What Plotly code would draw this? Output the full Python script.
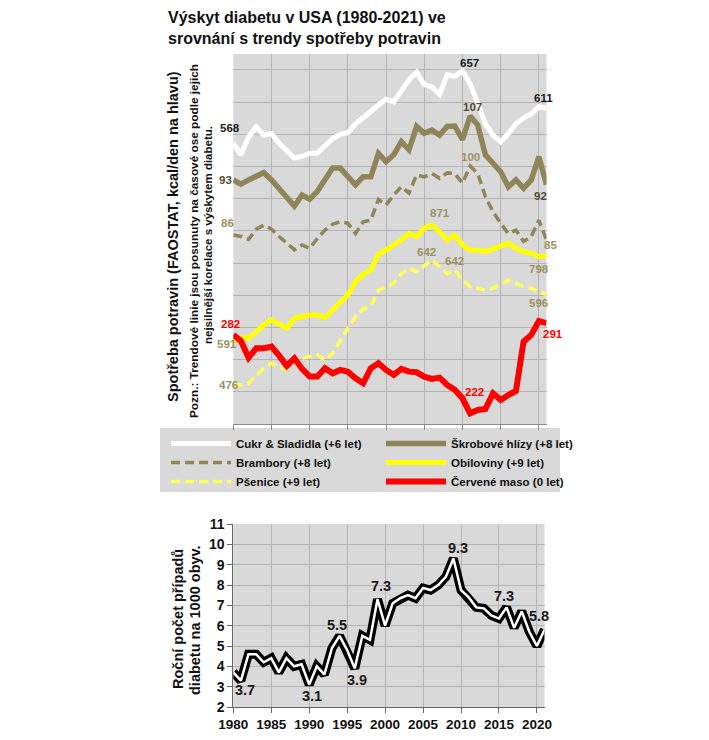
import plotly.graph_objects as go

# ---------------- data ----------------
years = list(range(1980, 2022))

sugar = [568, 554, 576, 588, 578, 580, 568, 558, 550, 552,
         556, 556, 564, 574, 579, 581, 592, 599, 607, 615,
         622, 619, 633, 646, 655, 640, 637, 628, 652, 650,
         657, 641, 617, 592, 578, 570, 580, 592, 599, 604,
         613, 611]
roots = [93, 92.1, 93, 93.9, 94.6, 93, 91.2, 89.4, 87.3, 89.7,
         88.8, 90.5, 93, 95.6, 95.6, 93.7, 91.9, 93.7, 93.7, 98.8,
         97.0, 98.5, 101.4, 99.6, 104.7, 103.2, 103.9, 102.8, 104.7, 104.8,
         101.8, 107, 105, 98.5, 96.6, 94.8, 91.5, 93, 91.2, 93,
         98.1, 92]
potato = [86.0, 85.7, 85.1, 87.2, 88.0, 87.2, 85.7, 84.3, 83.0, 84.0,
          83.3, 85.3, 87.0, 88.2, 88.7, 88.4, 86.3, 88.7, 89.0, 93.2,
          92.1, 94.1, 95.8, 94.5, 98.2, 97.8, 98.5, 97.5, 98.6, 98.5,
          96.5, 100, 98.5, 93.8, 90.7, 88.4, 86.3, 87.0, 84.7, 85.7,
          89.0, 85]
cereal = [591, 600.6, 599, 615, 631, 643, 632.6, 623, 647, 651,
          655, 655, 648.6, 667, 687, 703, 735, 752.6, 763, 800.6,
          811, 823, 835, 851, 843, 863, 871, 855, 835, 847,
          823, 811, 811, 807, 813.6, 821.4, 827, 815, 807, 803,
          795, 798]
wheat = [476, 476, 478, 489, 498, 505, 500, 496, 509, 512,
         514, 516, 509, 518, 533.5, 551, 567, 577, 581, 602,
         606.6, 611, 624, 631, 626.5, 635, 642, 633, 624, 628.7,
         615.4, 606.6, 604.4, 602, 604.4, 609.7, 615.4, 611, 606.6, 604.4,
         600, 596]
red_meat = [282, 277.4, 264.6, 271.8, 271.8, 273.1, 266.2, 258.3, 264.1, 256,
            250.1, 250.1, 256.5, 252.6, 255.2, 253.9, 248.8, 245, 256.5, 260.3,
            255.2, 251.4, 256, 253.9, 253.4, 250.1, 248.3, 249.3, 243.7, 239.9,
            233.5, 222, 224.6, 225.3, 237.3, 232.2, 236, 239.1, 276.9, 282,
            292.7, 291]
diabetes = [3.7, 3.3, 4.6, 4.6, 4.2, 4.4, 3.7, 4.4, 4.0, 4.1,
            3.1, 4.0, 3.6, 4.9, 5.5, 4.8, 3.9, 5.5, 5.3, 7.3,
            6.0, 7.1, 7.35, 7.5, 7.35, 7.85, 7.75, 8.0, 8.4, 9.3,
            7.75, 7.4, 6.9, 6.85, 6.5, 6.35, 6.9, 5.9, 6.7, 5.7,
            5.0, 5.8]

series_names = ["Cukr & Sladidla (+6 let)", "Škrobové hlízy (+8 let)",
                "Brambory (+8 let)", "Obiloviny (+9 let)",
                "Pšenice (+9 let)", "Červené maso (0 let)"]

# label: (series index, year, text)
top_labels = [
    (0, 1980, "568"), (0, 2010, "657"), (0, 2021, "611"),
    (1, 1980, "93"), (1, 2011, "107"), (1, 2021, "92"),
    (2, 1980, "86"), (2, 2011, "100"), (2, 2021, "85"),
    (3, 1980, "591"), (3, 2006, "871"), (3, 2021, "798"),
    (4, 1980, "476"), (4, 2006, "642"), (4, 2009, "642"), (4, 2021, "596"),
    (5, 1980, "282"), (5, 2011, "222"), (5, 2021, "291"),
]
diab_labels = [(1980, "3.7"), (1990, "3.1"), (1994, "5.5"), (1996, "3.9"),
               (1999, "7.3"), (2009, "9.3"), (2016, "7.3"), (2021, "5.8")]
x_ticks = [1980, 1985, 1990, 1995, 2000, 2005, 2010, 2015, 2020]
y_ticks = [2, 3, 4, 5, 6, 7, 8, 9, 10, 11]

# ---------------- styling ----------------
OFF = 8                      # page body margin of the browser
W, H = 709 - OFF, 740 - OFF
def px(x):
    return (x - OFF) / W
def py(y):
    return 1 - (y - OFF) / H

FONT = "Liberation Sans, Arial, sans-serif"
OLIVE = "#8f8558"
OLIVE_TXT = "#9a9262"
DARK_OLIVE = "#4f4b32"
BG = "#d9d9d9"
GRID = "#b4b4b4"
TXT = "#111111"

all_series = [sugar, roots, potato, cereal, wheat, red_meat]
axes = ["y2", "y3", "y4", "y5", "y6", "y7"]
colors = ["#ffffff", OLIVE, OLIVE, "#ffff00", "#ffff55", "#ff0000"]
widths = [5, 5.5, 3.5, 5, 3.5, 6]
dashes = ["solid", "solid", "9px,5px", "solid", "9px,5px", "solid"]
legends = ["legend", "legend2", "legend", "legend2", "legend", "legend2"]
ranges = [[224.5, 677.4], [39.6, 120.56], [47.7, 122.7],
          [393.4, 1281.4], [424.2, 915.6], [213.8, 497.2]]
label_colors = ["#1a1a1a", DARK_OLIVE, OLIVE_TXT, OLIVE_TXT, OLIVE_TXT, "#ff0000"]
label_shifts = {
    (0, 1980): (-3, 15), (0, 2010): (7, 8), (0, 2021): (-3, 10),
    (1, 1980): (-8, 0), (1, 2011): (2, 9), (1, 2021): (-6, -11),
    (2, 1980): (-6, 12), (2, 2011): (0, 9), (2, 2021): (4, -5),
    (3, 1980): (-6, -2), (3, 2006): (8, 12), (3, 2021): (-8, -14),
    (4, 1980): (-5, 0), (4, 2006): (-5, 8), (4, 2009): (0, 9), (4, 2021): (-8, -8),
    (5, 1980): (-3, 11), (5, 2011): (4, 21), (5, 2021): (6, -11),
}
diab_shifts = {1980: (12, -18), 1990: (3, -11), 1994: (-3, 11), 1996: (2, -12),
               1999: (3, 13), 2009: (5, 11), 2016: (-3, 11), 2021: (-6, 14)}

fig = go.Figure()
# empty trace so the base (grid) axis of the top panel exists
fig.add_trace(go.Scatter(x=[], y=[], xaxis="x", yaxis="y", showlegend=False,
                         hoverinfo="skip"))
for i, s in enumerate(all_series):
    fig.add_trace(go.Scatter(
        x=years, y=s, xaxis="x", yaxis=axes[i], mode="lines",
        name=series_names[i], legend=legends[i],
        line=dict(color=colors[i], width=widths[i], dash=dashes[i])))

fig.add_trace(go.Scatter(x=years, y=diabetes, xaxis="x2", yaxis="y8", mode="lines",
                         line=dict(color="#000000", width=9), showlegend=False))
fig.add_trace(go.Scatter(x=years, y=diabetes, xaxis="x2", yaxis="y8", mode="lines",
                         line=dict(color="#ffffff", width=2.5), showlegend=False))

annotations = []
for si, yr, txt in top_labels:
    dx, dy = label_shifts[(si, yr)]
    annotations.append(dict(
        x=yr, y=all_series[si][years.index(yr)], xref="x", yref=axes[si],
        text="<b>%s</b>" % txt, showarrow=False, xshift=dx, yshift=dy,
        font=dict(family=FONT, size=11.5, color=label_colors[si])))
for yr, txt in diab_labels:
    dx, dy = diab_shifts[yr]
    annotations.append(dict(
        x=yr, y=diabetes[years.index(yr)], xref="x2", yref="y8",
        text="<b>%s</b>" % txt, showarrow=False, xshift=dx, yshift=dy,
        font=dict(family=FONT, size=14.5, color="#1a1a1a")))

def vtext(x, y, txt, size):
    return dict(x=px(x), y=py(y), xref="paper", yref="paper", textangle=-90,
                xanchor="center", yanchor="middle", showarrow=False,
                text="<b>%s</b>" % txt, font=dict(family=FONT, size=size, color=TXT))

# titles
annotations.append(dict(
    x=px(166), y=py(7), xref="paper", yref="paper", xanchor="left", yanchor="top",
    align="left", showarrow=False,
    text="<b>Výskyt diabetu v USA (1980-2021) ve<br>srovnání s trendy spotřeby potravin</b>",
    font=dict(family=FONT, size=16, color=TXT)))
annotations.append(vtext(173, 237, "Spotřeba potravin (FAOSTAT, kcal/den na hlavu)", 14.5))
annotations.append(vtext(194, 241, "Pozn.: Trendové linie jsou posunuty na časové ose podle jejich", 11.8))
annotations.append(vtext(208, 235, "nejsilnější korelace s výskytem diabetu.", 11.5))
annotations.append(vtext(178, 619, "Roční počet případů", 14.5))
annotations.append(vtext(195, 620, "diabetu na 1000 obyv.", 14.5))

legend_font = dict(family=FONT, size=11.5, color=TXT, weight="bold")
layout = dict(
    width=W, height=H,
    margin=dict(l=0, r=0, t=0, b=0, autoexpand=False),
    paper_bgcolor="#ffffff", plot_bgcolor=BG,
    annotations=annotations,
    xaxis=dict(domain=[px(233.3), px(546.5)], range=[1980, 2021], anchor="y",
               tickvals=x_ticks, showticklabels=False, ticks="outside", ticklen=5,
               tickcolor="#8a8a8a", showline=True, linecolor="#8a8a8a",
               showgrid=True, gridcolor=GRID, gridwidth=1, zeroline=False),
    yaxis=dict(domain=[py(424), py(54)], range=[0, 370 / 32.2], dtick=1,
               showticklabels=False, showgrid=True, gridcolor=GRID, gridwidth=1,
               zeroline=False, showline=False, ticks=""),
    xaxis2=dict(domain=[px(233.3), px(544.5)], range=[1980, 2021], anchor="y8",
                tickvals=x_ticks, ticks="outside", ticklen=5, tickcolor="#666666",
                showline=True, linecolor="#666666", showgrid=True, gridcolor=GRID,
                zeroline=False,
                tickfont=dict(family=FONT, size=13.5, color=TXT, weight="bold")),
    yaxis8=dict(domain=[py(707), py(524)], range=[2, 11], tickvals=y_ticks,
                anchor="x2", ticks="outside", ticklen=5, tickcolor="#666666",
                showline=True, linecolor="#666666", showgrid=True, gridcolor=GRID,
                zeroline=False,
                tickfont=dict(family=FONT, size=14, color=TXT, weight="bold")),
    legend=dict(x=px(166), y=py(429), xanchor="left", yanchor="top",
                bgcolor="rgba(0,0,0,0)", itemwidth=60, tracegroupgap=0,
                font=legend_font),
    legend2=dict(x=px(381), y=py(429), xanchor="left", yanchor="top",
                 bgcolor="rgba(0,0,0,0)", itemwidth=60, tracegroupgap=0,
                 font=legend_font),
    shapes=[dict(type="rect", xref="paper", yref="paper",
                 x0=px(160), x1=px(560), y0=py(492), y1=py(428),
                 fillcolor=BG, line=dict(width=0), layer="below")],
    showlegend=True,
)
for i, ax in enumerate(axes):
    key = "yaxis" + ax[1:]
    layout[key] = dict(overlaying="y", anchor="x", range=ranges[i], visible=False)

fig.update_layout(**layout)
fig.write_html("out.html")
